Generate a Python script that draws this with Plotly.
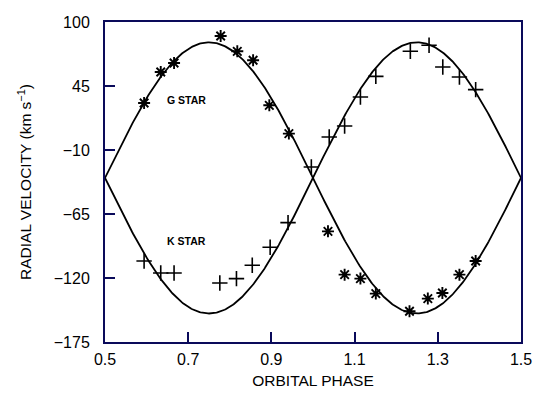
import numpy as np
import plotly.graph_objects as go

# Orbital solution (km/s)
gamma = -34.0
k_amp = 116.5

# G star measurements (asterisks)
g_phase = [0.594, 0.634, 0.666, 0.778, 0.818, 0.856, 0.895, 0.942,
           1.036, 1.076, 1.114, 1.151, 1.232, 1.276, 1.311, 1.352, 1.391]
g_vel = [30.4, 57.0, 64.8, 88.0, 74.8, 67.1, 28.4, 4.1,
         -79.9, -117.1, -120.5, -133.4, -148.6, -137.7, -132.9, -117.1, -105.4]

# K star measurements (plus signs)
k_phase = [0.594, 0.634, 0.666, 0.776, 0.816, 0.854, 0.897, 0.940,
           0.996, 1.039, 1.076, 1.114, 1.151, 1.234, 1.279, 1.312, 1.352, 1.391]
k_vel = [-105.4, -115.7, -115.7, -124.3, -120.5, -109.1, -93.6, -72.4,
         -24.6, 1.2, 10.6, 35.5, 53.3, 74.8, 80.0, 61.3, 52.7, 41.9]

x_ticks = [0.5, 0.7, 0.9, 1.1, 1.3, 1.5]
y_ticks = [100, 45, -10, -65, -120, -175]

x_range = [0.5, 1.5]
y_range = [-175, 100]

# Model velocity curves over one full cycle
phase_grid = np.linspace(0.5, 1.5, 401)
g_model = gamma - k_amp * np.sin(2 * np.pi * phase_grid)
k_model = gamma + k_amp * np.sin(2 * np.pi * phase_grid)

font_family = "Liberation Sans, Arial, sans-serif"
ink = "black"
frame = "rgb(10,10,90)"

fig = go.Figure()
fig.add_trace(go.Scatter(x=phase_grid, y=g_model, mode="lines",
                         line=dict(color=ink, width=1.8), hoverinfo="skip"))
fig.add_trace(go.Scatter(x=phase_grid, y=k_model, mode="lines",
                         line=dict(color=ink, width=1.8), hoverinfo="skip"))
fig.add_trace(go.Scatter(x=g_phase, y=g_vel, mode="markers", name="G star",
                         marker=dict(symbol="asterisk-open", size=10, color=ink,
                                     line=dict(color=ink, width=1.9))))
fig.add_trace(go.Scatter(x=k_phase, y=k_vel, mode="markers", name="K star",
                         marker=dict(symbol="cross-thin-open", size=11, color=ink,
                                     line=dict(color=ink, width=1.6))))

fig.add_annotation(x=0.696, y=33, text="<b>G STAR</b>", showarrow=False,
                   font=dict(family=font_family, size=10.5, color=ink))
fig.add_annotation(x=0.696, y=-88, text="<b>K STAR</b>", showarrow=False,
                   font=dict(family=font_family, size=10.5, color=ink))

axis_style = dict(showline=True, linecolor=frame, linewidth=2, mirror=True,
                  ticks="inside", ticklen=10, tickwidth=2, tickcolor=frame,
                  showgrid=False, zeroline=False, automargin=False,
                  tickfont=dict(family=font_family, size=16, color=ink))

fig.update_layout(
    template="none",
    width=533, height=395, showlegend=False,
    margin=dict(l=105, r=12, t=22, b=53),
    plot_bgcolor="white", paper_bgcolor="white",
    xaxis=dict(range=x_range, tickmode="array", tickvals=x_ticks,
               ticktext=[f"{v:.1f}" for v in x_ticks], ticklabelstandoff=2,
               title=dict(text="ORBITAL PHASE", standoff=8,
                          font=dict(family=font_family, size=15.5, color=ink)),
               **axis_style),
    yaxis=dict(range=y_range, tickmode="array", tickvals=y_ticks,
               ticktext=[f"{v}".replace("-", "\u2212") for v in y_ticks], ticklabelstandoff=10,
               title=dict(text="RADIAL VELOCITY (km s<sup>\u22121</sup>)", standoff=18,
                          font=dict(family=font_family, size=15.5, color=ink)),
               **axis_style),
)

fig.write_html("out.html")
